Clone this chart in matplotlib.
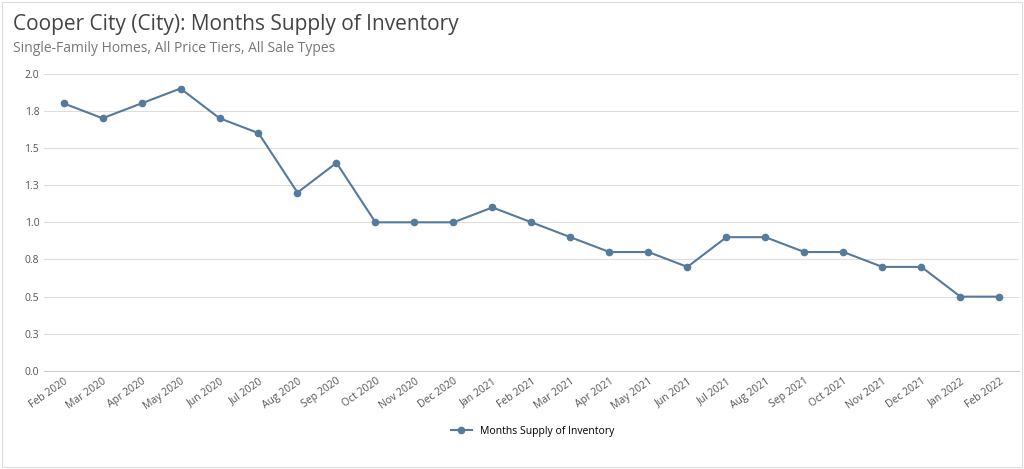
import matplotlib
matplotlib.use("Agg")
import matplotlib.pyplot as plt

months = ["Feb 2020","Mar 2020","Apr 2020","May 2020","Jun 2020","Jul 2020","Aug 2020","Sep 2020",
          "Oct 2020","Nov 2020","Dec 2020","Jan 2021","Feb 2021","Mar 2021","Apr 2021","May 2021",
          "Jun 2021","Jul 2021","Aug 2021","Sep 2021","Oct 2021","Nov 2021","Dec 2021","Jan 2022","Feb 2022"]
values = [1.8,1.7,1.8,1.9,1.7,1.6,1.2,1.4,1.0,1.0,1.0,1.1,1.0,0.9,0.8,0.8,0.7,0.9,0.9,0.8,0.8,0.7,0.7,0.5,0.5]
yticks = [0.0,0.25,0.5,0.75,1.0,1.25,1.5,1.75,2.0]
ytick_labels = ["0.0","0.3","0.5","0.8","1.0","1.3","1.5","1.8","2.0"]

plt.rcParams["font.family"] = "Open Sans"
fig = plt.figure(figsize=(10.24,4.69), dpi=100)
ax = fig.add_axes([0.043, 0.209, 0.952, 0.634])
x = range(len(months))
ax.plot(x, values, color="#557a9c", lw=1.5, marker="o", ms=4.5, label="Months Supply of Inventory")
ax.set_ylim(0, 2.0)
ax.set_xlim(-0.5, len(months)-0.5)
ax.set_yticks(yticks)
ax.set_yticklabels(ytick_labels, fontsize=7.5, color="#555555")
ax.set_xticks(list(x))
ax.set_xticklabels(months, rotation=35, ha="right", rotation_mode="anchor", fontsize=7.5, color="#555555")
ax.grid(axis="y", color="#dddddd", lw=0.8)
ax.tick_params(length=0)
for s in ["top","right","left"]:
    ax.spines[s].set_visible(False)
ax.spines["bottom"].set_color("#cccccc")
fig.text(0.013, 0.935, "Cooper City (City): Months Supply of Inventory", fontsize=15, color="#444444")
fig.text(0.013, 0.89, "Single-Family Homes, All Price Tiers, All Sale Types", fontsize=10, color="#777777")
fig.legend(loc="center", bbox_to_anchor=(0.52, 0.08), frameon=False, fontsize=7.5)
fig.patches.append(plt.Rectangle((0.002,0.004),0.996,0.992, transform=fig.transFigure, fill=False, ec="#dddddd", lw=0.8))
fig.savefig("out.png", dpi=100, facecolor="white")
